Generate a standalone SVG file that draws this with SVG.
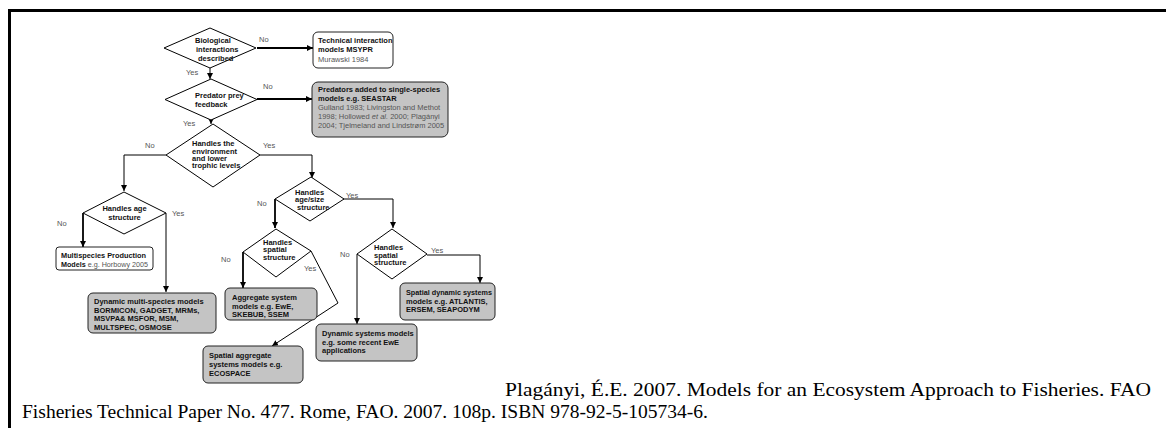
<svg xmlns="http://www.w3.org/2000/svg" width="1166" height="428" viewBox="0 0 1166 428">
<style>
.d{fill:#fff;stroke:#000;stroke-width:1}
.bw{fill:#fff;stroke:#222;stroke-width:1}
.bg{fill:#c4c4c4;stroke:#222;stroke-width:1}
.t{font-family:"Liberation Sans",Arial,sans-serif;font-size:7.5px;font-weight:bold;fill:#111}
.r{font-family:"Liberation Sans",Arial,sans-serif;font-size:7.5px;font-weight:normal;fill:#555}
.l{font-family:"Liberation Sans",Arial,sans-serif;font-size:7.5px;fill:#555}
.c{fill:none;stroke:#000;stroke-width:1}
.ck{fill:none;stroke:#000;stroke-width:1.8}
.cite{font-family:"Liberation Serif","Times New Roman",serif;font-size:18px;fill:#000}
</style>
<defs>
<marker id="ah" viewBox="0 0 8 8" refX="8" refY="4" markerWidth="6" markerHeight="6" markerUnits="userSpaceOnUse" orient="auto">
<path d="M0,0 L8,4 L0,8 z" fill="#000"/>
</marker>
</defs>
<rect width="1166" height="428" fill="#fff"/>
<path d="M9.5,428 V10.5 H1166" fill="none" stroke="#000" stroke-width="3"/>

<g id="connectors">
<path class="ck" d="M257,48 H313" marker-end="url(#ah)"/>
<path class="c" d="M210,68 V79" marker-end="url(#ah)"/>
<path class="ck" d="M257,99 H312" marker-end="url(#ah)"/>
<path class="c" d="M211,120 V124" marker-end="url(#ah)"/>
<path class="c" d="M260,155 H312 V178" marker-end="url(#ah)"/>
<path class="c" d="M166,155 H124 V191" marker-end="url(#ah)"/>
<path class="ck" d="M83,213 V247" marker-end="url(#ah)"/>
<path class="c" d="M166,213 V292" marker-end="url(#ah)"/>
<path class="ck" d="M275,199 V228" marker-end="url(#ah)"/>
<path class="c" d="M343,199 H393 V228" marker-end="url(#ah)"/>
<path class="ck" d="M243,252 V288" marker-end="url(#ah)"/>
<path class="c" d="M311,251 L338,303 L272,346" marker-end="url(#ah)"/>
<path class="c" d="M357,254 V324" marker-end="url(#ah)"/>
<path class="c" d="M427,255 H480 V283" marker-end="url(#ah)"/>
<text class="l" x="259" y="42">No</text>
<text class="l" x="186" y="75">Yes</text>
<text class="l" x="263" y="89">No</text>
<text class="l" x="183" y="126">Yes</text>
<text class="l" x="263" y="148">Yes</text>
<text class="l" x="145" y="148">No</text>
<text class="l" x="57" y="226">No</text>
<text class="l" x="172" y="216">Yes</text>
<text class="l" x="257" y="206">No</text>
<text class="l" x="346" y="198">Yes</text>
<text class="l" x="221" y="262">No</text>
<text class="l" x="304" y="271">Yes</text>
<text class="l" x="340" y="257">No</text>
<text class="l" x="431" y="253">Yes</text>
</g>

<g id="d1">
<polygon class="d" points="210,28 256,48 210,68 164,48"/>
<text class="t" x="195" y="43">Biological</text>
<text class="t" x="196" y="52">interactions</text>
<text class="t" x="198" y="61">described</text>
</g>
<g id="b1">
<rect class="bw" x="313" y="32" width="80" height="36" rx="5"/>
<text class="t" x="318" y="43">Technical interaction</text>
<text class="t" x="318" y="52">models MSYPR</text>
<text class="r" x="318" y="62">Murawski 1984</text>
</g>
<g id="d2">
<polygon class="d" points="211,79 257,99.5 211,120 165,99.5"/>
<text class="t" x="195" y="98">Predator prey</text>
<text class="t" x="195" y="107">feedback</text>
</g>
<g id="b2">
<rect class="bg" x="312" y="82" width="136" height="55" rx="6"/>
<text class="t" x="318" y="92">Predators added to single-species</text>
<text class="t" x="318" y="101">models e.g. SEASTAR</text>
<text class="r" x="318" y="110">Gulland 1983; Livingston and Methot</text>
<text class="r" x="318" y="119">1998; Hollowed <tspan font-style="italic">et al.</tspan> 2000; Plagányi</text>
<text class="r" x="318" y="128">2004; Tjelmeland and Lindstrøm  2005</text>
</g>
<g id="d3">
<polygon class="d" points="213,124 260,155 213,187 166,155"/>
<text class="t" x="192" y="146">Handles the</text>
<text class="t" x="192" y="154">environment</text>
<text class="t" x="192" y="161">and lower</text>
<text class="t" x="192" y="168">trophic levels</text>
</g>
<g id="d5">
<polygon class="d" points="124,192 166,213 124,234 83,213"/>
<text class="t" x="124.5" y="211" text-anchor="middle">Handles age</text>
<text class="t" x="124.5" y="219.5" text-anchor="middle">structure</text>
</g>
<g id="b_msp">
<rect class="bw" x="56" y="247" width="97" height="23" rx="3"/>
<text class="t" x="61" y="257.5" textLength="85" lengthAdjust="spacingAndGlyphs">Multispecies Production</text>
<text class="t" x="61" y="266.5" textLength="87" lengthAdjust="spacingAndGlyphs">Models <tspan class="r">e.g. Horbowy 2005</tspan></text>
</g>
<g id="b_dms">
<rect class="bg" x="88" y="293" width="128" height="40" rx="5"/>
<text class="t" x="94" y="304">Dynamic multi-species models</text>
<text class="t" x="94" y="312.5">BORMICON, GADGET, MRMs,</text>
<text class="t" x="94" y="321">MSVPA&amp; MSFOR, MSM,</text>
<text class="t" x="94" y="329.5">MULTSPEC, OSMOSE</text>
</g>
<g id="d4">
<polygon class="d" points="311,177 344,199 310,221 275,199"/>
<text class="t" x="295" y="195">Handles</text>
<text class="t" x="295" y="202">age/size</text>
<text class="t" x="297" y="210">structure</text>
</g>
<g id="d6">
<polygon class="d" points="276,229 311,251 276,277 243,252"/>
<text class="t" x="263" y="245">Handles</text>
<text class="t" x="263" y="252">spatial</text>
<text class="t" x="263" y="260">structure</text>
</g>
<g id="b_agg">
<rect class="bg" x="225" y="288" width="92" height="32" rx="5"/>
<text class="t" x="232" y="300">Aggregate system</text>
<text class="t" x="232" y="308.5">models e.g. EwE,</text>
<text class="t" x="232" y="317">SKEBUB, SSEM</text>
</g>
<g id="b_sagg">
<rect class="bg" x="203" y="346" width="100" height="37" rx="5"/>
<text class="t" x="209" y="358">Spatial aggregate</text>
<text class="t" x="209" y="367">systems models e.g.</text>
<text class="t" x="209" y="376">ECOSPACE</text>
</g>
<g id="d7">
<polygon class="d" points="392,229 427,254 392,279 357,254"/>
<text class="t" x="374" y="250">Handles</text>
<text class="t" x="374" y="257.5">spatial</text>
<text class="t" x="374" y="265">structure</text>
</g>
<g id="b_sdyn">
<rect class="bg" x="400" y="283" width="95" height="37" rx="5"/>
<text class="t" x="406" y="295" textLength="86" lengthAdjust="spacingAndGlyphs">Spatial dynamic systems</text>
<text class="t" x="406" y="303.5">models e.g. ATLANTIS,</text>
<text class="t" x="406" y="312">ERSEM, SEAPODYM</text>
</g>
<g id="b_dyn">
<rect class="bg" x="316" y="324" width="101" height="37" rx="5"/>
<text class="t" x="322" y="336">Dynamic systems models</text>
<text class="t" x="322" y="344.5">e.g. some recent EwE</text>
<text class="t" x="322" y="353">applications</text>
</g>

<g id="citation">
<text class="cite" x="505" y="396" textLength="646" lengthAdjust="spacingAndGlyphs">Plagányi, É.E. 2007. Models for an Ecosystem Approach to Fisheries.  FAO</text>
<text class="cite" x="22" y="418" textLength="686" lengthAdjust="spacingAndGlyphs">Fisheries Technical Paper No. 477. Rome, FAO. 2007.  108p. ISBN 978-92-5-105734-6.</text>
</g>
</svg>
